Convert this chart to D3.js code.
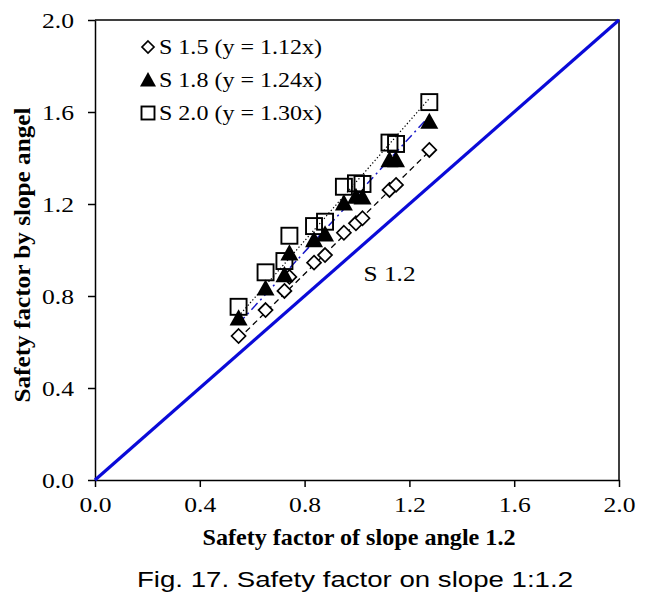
<!DOCTYPE html>
<html>
<head>
<meta charset="utf-8">
<script src="https://cdn.jsdelivr.net/npm/d3@7"></script>
<style>
  body { margin: 0; background: #fff; }
  text { font-family: "Liberation Serif", "Times New Roman", serif; fill: #000; }
</style>
</head>
<body>
<div id="chart"></div>
<script>
// x = safety factor of slope angle 1.2 (same for every series)
const sf12 = [0.548, 0.651, 0.723, 0.742, 0.836, 0.878, 0.950, 0.996, 1.021, 1.124, 1.149, 1.276]
const s15 = [0.626, 0.739, 0.822, 0.883, 0.945, 0.978, 1.075, 1.116, 1.138, 1.261, 1.283, 1.435]
const s18 = [0.703, 0.833, 0.891, 0.986, 1.043, 1.068, 1.203, 1.232, 1.229, 1.391, 1.391, 1.558]
const s20 = [0.753, 0.903, 0.952, 1.062, 1.104, 1.123, 1.275, 1.290, 1.287, 1.467, 1.461, 1.643]
const seriesNames = ["S 1.5", "S 1.8", "S 2.0"]
const slopes = [1.12, 1.24, 1.30]
const ticks = [0, 0.4, 0.8, 1.2, 1.6, 2.0]

const width = 650, height = 607
const mLeft = 95, mRight = 619, mTop = 20, mBottom = 480

const svg = d3.select("#chart").append("svg")
  .attr("width", width)
  .attr("height", height)

const x = d3.scaleLinear().domain([0, 2]).range([mLeft, mRight])
const y = d3.scaleLinear().domain([0, 2]).range([mBottom, mTop])

// stretch a text to a given width (the source picture is a bit wide)
function fit(sel, w) {
  sel.attr("textLength", w).attr("lengthAdjust", "spacingAndGlyphs")
}

/* axes */
const xAxis = d3.axisBottom(x).tickValues(ticks).tickFormat(d3.format(".1f")).tickSize(7).tickSizeOuter(0)
const yAxis = d3.axisLeft(y).tickValues(ticks).tickFormat(d3.format(".1f")).tickSize(7).tickSizeOuter(0)

const gx = svg.append("g")
  .attr("transform", `translate(0, ${mBottom})`)
  .call(xAxis)
gx.selectAll("text").attr("dy", null).attr("y", 32).style("font-size", "21px")
  .each(function() { fit(d3.select(this), 32) })

const gy = svg.append("g")
  .attr("transform", `translate(${mLeft}, 0)`)
  .call(yAxis)
gy.selectAll("text").attr("x", -21).attr("dy", "0.35em").style("font-size", "21px")
  .each(function() { fit(d3.select(this), 32) })

svg.selectAll(".domain, .tick line").attr("stroke", "#000").attr("stroke-width", 1.5)
svg.selectAll(".tick text").style("font-family", "Liberation Serif")

// top and right border of the plot area
svg.append("path")
  .attr("d", `M${x(0)},${y(2)}H${x(2)}V${y(0)}`)
  .attr("fill", "none")
  .attr("stroke", "#000")
  .attr("stroke-width", 1.5)

/* 1:1 line */
svg.append("line")
  .attr("x1", x(0)).attr("y1", y(0))
  .attr("x2", x(2)).attr("y2", y(2))
  .attr("stroke", "#0a0ad8")
  .attr("stroke-width", 3.2)

svg.append("text")
  .attr("x", x(1.025)).attr("y", y(0.865))
  .style("font-size", "22px")
  .text("S 1.2")
  .call(fit, 52)

/* trend lines y = kx */
const lineStyles = [
  { stroke: "#000", dash: "6,4", w: 1.3 },
  { stroke: "#1818c8", dash: "9,4,2,4", w: 1.5 },
  { stroke: "#000", dash: "1.3,2.2", w: 1.2 }
]
const xmin = d3.min(sf12), xmax = d3.max(sf12)
slopes.forEach((k, i) => {
  svg.append("line")
    .attr("x1", x(xmin)).attr("y1", y(k * xmin))
    .attr("x2", x(xmax)).attr("y2", y(k * xmax))
    .attr("stroke", lineStyles[i].stroke)
    .attr("stroke-width", lineStyles[i].w)
    .attr("stroke-dasharray", lineStyles[i].dash)
})

/* markers */
function diamond(g, s) {
  g.append("path").attr("d", `M0,${-s}L${s},0L0,${s}L${-s},0Z`)
    .attr("fill", "#fff").attr("stroke", "#000").attr("stroke-width", 1.7)
}
function triangle(g, s) {
  g.append("path").attr("d", `M0,${-s}L${s},${s * 0.8}L${-s},${s * 0.8}Z`)
    .attr("fill", "#000")
}
function square(g, s) {
  g.append("rect").attr("x", -s).attr("y", -s).attr("width", 2 * s).attr("height", 2 * s)
    .attr("fill", "none").attr("stroke", "#000").attr("stroke-width", 1.9)
}
const shapes = [diamond, triangle, square]
const sizes = [7, 9, 8]

const allSeries = [s15, s18, s20]
allSeries.forEach((vals, i) => {
  const pts = svg.append("g").attr("class", "series-" + i)
  vals.forEach((v, j) => {
    const g = pts.append("g").attr("transform", `translate(${x(sf12[j])}, ${y(v)})`)
    shapes[i](g, sizes[i])
  })
})

/* legend */
const legend = svg.append("g")
seriesNames.forEach((name, i) => {
  const ly = 47 + i * 33
  const g = legend.append("g").attr("transform", `translate(148, ${ly})`)
  shapes[i](g, [6, 8, 6.5][i])
  legend.append("text")
    .attr("x", 159).attr("y", ly + 7)
    .style("font-size", "22px")
    .text(`${name} (y = ${slopes[i].toFixed(2)}x)`)
    .call(fit, 163)
})

/* axis titles */
svg.append("text")
  .attr("x", 359).attr("y", 545)
  .attr("text-anchor", "middle")
  .style("font-size", "23px").style("font-weight", "bold")
  .text("Safety factor of slope angle  1.2")
  .call(fit, 313)

svg.append("text")
  .attr("transform", `translate(30, 255) rotate(-90)`)
  .attr("text-anchor", "middle")
  .style("font-size", "23px").style("font-weight", "bold")
  .text("Safety factor by slope angel")
  .call(fit, 295)

/* caption */
svg.append("text")
  .attr("x", 355).attr("y", 587)
  .attr("text-anchor", "middle")
  .style("font-family", "'Liberation Sans', 'DejaVu Sans', sans-serif")
  .style("font-size", "22px")
  .text("Fig. 17. Safety factor on slope 1:1.2")
  .call(fit, 436)
</script>
</body>
</html>
